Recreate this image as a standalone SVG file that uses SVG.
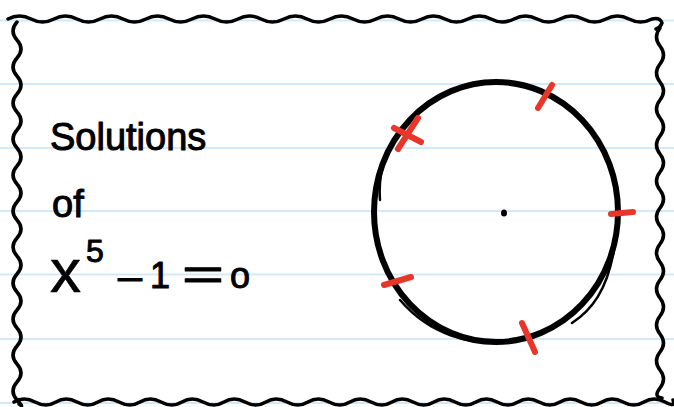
<svg xmlns="http://www.w3.org/2000/svg" width="674" height="407" viewBox="0 0 674 407">
<style>
.rule{stroke:#d3e9f8;stroke-width:2}
.ink{fill:none;stroke:#000;stroke-width:3.5;stroke-linecap:round;stroke-linejoin:round}
.circ{fill:none;stroke:#000;stroke-linecap:round}
.tick{stroke:#e8372a;stroke-width:6;stroke-linecap:round;fill:none}
.hand{font-family:"Liberation Sans","DejaVu Sans",sans-serif;fill:#000;stroke:#000;stroke-width:1;stroke-linejoin:round}
</style>
<rect width="674" height="407" fill="#fff"/>
<g id="rules">
<line class="rule" x1="0" y1="20.5" x2="674" y2="20.5"/>
<line class="rule" x1="0" y1="84" x2="674" y2="84"/>
<line class="rule" x1="0" y1="148" x2="674" y2="148"/>
<line class="rule" x1="0" y1="211" x2="674" y2="211"/>
<line class="rule" x1="0" y1="274.5" x2="674" y2="274.5"/>
<line class="rule" x1="0" y1="339" x2="674" y2="339"/>
<line class="rule" x1="0" y1="403" x2="674" y2="403"/>
</g>
<g id="border">
<path class="ink" d="M8,19 q11.5,-6 23,0 t23,0 t23,0 t23,0 t23,0 t23,0 t23,0 t23,0 t23,0 t23,0 t23,0 t23,0 t23,0 t23,0 t23,0 t23,0 t23,0 t23,0 t23,0 t23,0 t23,0 t23,0 t23,0 t23,0 t23,0 t23,0 t23,0 t23,0 q8,-2 10,4 q-2,5 -6,6"/>
<path class="ink" d="M17,22 q-8,9 0,18 t0,18 t0,18 t0,18 t0,18 t0,18 t0,18 t0,18 t0,18 t0,18 t0,18 t0,18 t0,18 t0,18 t0,18 t0,18 t0,18 t0,18 t0,18 t0,18 t0,18 t2,4"/>
<path class="ink" d="M660,28 q-7,9 0,18 t0,18 t0,18 t0,18 t0,18 t0,18 t0,18 t0,18 t0,18 t0,18 t0,18 t0,18 t0,18 t0,18 t0,18 t0,18 t0,18 t0,18 t0,18 t0,18 t2,10"/>
<path class="ink" d="M14,402 q10,-6 21,0 t21,0 t21,0 t21,0 t21,0 t21,0 t21,0 t21,0 t21,0 t21,0 t21,0 t21,0 t21,0 t21,0 t21,0 t21,0 t21,0 t21,0 t21,0 t21,0 t21,0 t21,0 t21,0 t21,0 t21,0 t21,0 t21,0 t21,0 t21,0 t21,0 t21,0 t8,-2"/>
</g>
<g id="label">
<text class="hand" x="50" y="150" style="font-size:38px">Solutions</text>
<text class="hand" x="52" y="217" style="font-size:38px">of</text>
<text class="hand" x="50" y="292" style="font-size:62px;stroke-width:0.6">x</text>
<text class="hand" x="86" y="262" style="font-size:32px">5</text>
<text class="hand" x="118" y="290" style="font-size:38px" textLength="24" lengthAdjust="spacingAndGlyphs">–</text>
<text class="hand" x="150" y="288" style="font-size:36px">1</text>
<text class="hand" x="182" y="290" style="font-size:44px" textLength="42" lengthAdjust="spacingAndGlyphs">=</text>
<text class="hand" x="230" y="288" style="font-size:36px">o</text>
</g>
<g id="circle">
<ellipse class="circ" cx="496" cy="212" rx="122" ry="130" stroke-width="6"/>
<path class="circ" stroke-width="2.5" d="M380,200 C376,150 410,100 470,86 M400,300 C430,335 470,346 510,341 M614,250 C607,290 592,310 572,323"/>
<ellipse cx="504" cy="213" rx="3" ry="3.5" fill="#000"/>
</g>
<g id="roots">
<line class="tick" x1="552" y1="85" x2="538" y2="108"/>
<line class="tick" x1="394" y1="128" x2="421" y2="142"/>
<line class="tick" x1="398" y1="149" x2="418" y2="118"/>
<line class="tick" x1="611" y1="214" x2="633" y2="212"/>
<line class="tick" x1="384" y1="285" x2="411" y2="277"/>
<line class="tick" x1="522" y1="323" x2="535" y2="352"/>
</g>
</svg>
